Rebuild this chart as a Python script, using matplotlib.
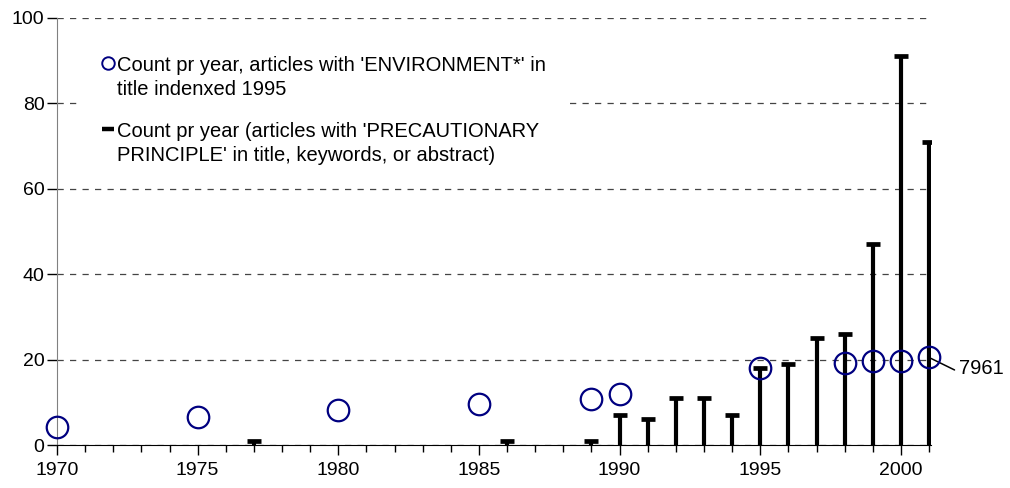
import numpy as np
import matplotlib.pyplot as plt
from matplotlib.patches import Rectangle
from matplotlib.lines import Line2D

plt.rcParams['font.family'] = ['Liberation Sans', 'DejaVu Sans']

# Datos: circulos (ENVIRONMENT*) y barras (PRECAUTIONARY PRINCIPLE)
env_years = [1970, 1975, 1980, 1985, 1989, 1990, 1995, 1998, 1999, 2000, 2001]
env_counts = [4.2, 6.5, 8.3, 9.5, 10.7, 11.9, 18.0, 19.2, 19.6, 19.6, 20.5]

pp_years = [1977, 1986, 1989, 1990, 1991, 1992, 1993, 1994, 1995, 1996,
            1997, 1998, 1999, 2000, 2001]
pp_counts = [1, 1, 1, 7, 6, 11, 11, 7, 18, 19, 25, 26, 47, 91, 71]

label_env = "Count pr year, articles with 'ENVIRONMENT*' in\ntitle indenxed 1995"
label_pp = "Count pr year (articles with 'PRECAUTIONARY\nPRINCIPLE' in title, keywords, or abstract)"
note_text = "7961"

W, H = 1010, 488
fig = plt.figure(figsize=(W/100, H/100), dpi=100)
ax = fig.add_axes([57/W, 43/H, 874/W, 427/H])

# barras con tapa
ax.vlines(pp_years, 0, pp_counts, colors='black', linewidth=3, zorder=3)
ax.plot(pp_years, pp_counts, linestyle='none', marker='_', markersize=10,
        markeredgewidth=3.4, color='black', zorder=3)

# circulos
ax.plot(env_years, env_counts, linestyle='none', marker='o', markersize=15.5,
        markerfacecolor='none', markeredgecolor='#000080', markeredgewidth=1.6,
        zorder=4, clip_on=False)

# nota
ax.annotate(note_text, xy=(env_years[-1], env_counts[-1]), xytext=(2002.05, 18.0),
            fontsize=14.5, ha='left', va='center', annotation_clip=False,
            arrowprops=dict(arrowstyle='-', color='black', lw=1.1,
                            shrinkA=1, shrinkB=1, relpos=(0, 0.3)))

ax.set_xlim(1970, 2001.07)
ax.set_ylim(0, 100)
ax.set_yticks(np.arange(0, 101, 20))
ax.set_xticks(np.arange(1970, 2001, 5))
ax.set_xticks(np.arange(1970, 2002, 1), minor=True)
ax.tick_params(axis='both', labelsize=14, direction='out', length=7, width=1)
ax.tick_params(axis='x', which='minor', length=5, width=1)
ax.tick_params(axis='x', pad=5)
ax.tick_params(axis='y', pad=2)

ax.yaxis.grid(True, linestyle=(0, (5, 5)), color='#444444', linewidth=0.9)
ax.set_axisbelow(True)

for s in ['top', 'right']:
    ax.spines[s].set_visible(False)
ax.spines['left'].set_color('#808080')
ax.spines['bottom'].set_color('black')

# leyenda hecha a mano (marcador alineado con la primera linea)
def fy(y):
    return 1 - y / H

fig.patches.append(Rectangle((77/W, fy(185)), (570-77)/W, (185-38)/H,
                             transform=fig.transFigure, facecolor='white',
                             edgecolor='none', zorder=5))
fig.lines.append(Line2D([108/W], [fy(63)], transform=fig.transFigure,
                        linestyle='none', marker='o', markersize=9,
                        markerfacecolor='none', markeredgecolor='#000080',
                        markeredgewidth=1.4, zorder=6))
fig.lines.append(Line2D([108/W], [fy(129)], transform=fig.transFigure,
                        linestyle='none', marker='_', markersize=8,
                        markeredgewidth=3.2, color='black', zorder=6))
fig.text(117/W, fy(77.5), label_env, fontsize=14.5, ha='left', va='center',
         linespacing=1.35, zorder=6)
fig.text(117/W, fy(143.5), label_pp, fontsize=14.5, ha='left', va='center',
         linespacing=1.35, zorder=6)

fig.savefig('out.png', dpi=100)
